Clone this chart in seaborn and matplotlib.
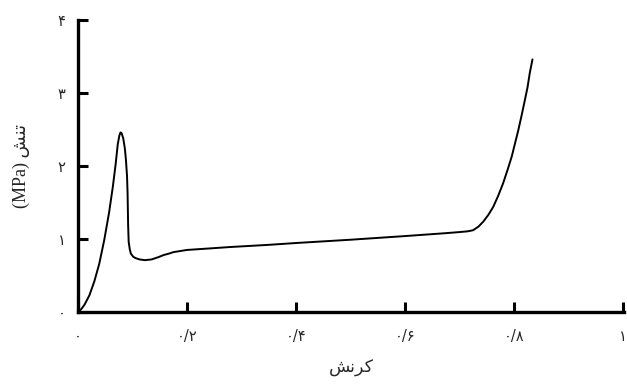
import numpy as np
import pandas as pd
import seaborn as sns
import matplotlib.pyplot as plt

# values
strain = [0.000, 0.006, 0.012, 0.021, 0.030, 0.039, 0.048, 0.057, 0.064, 0.069,
          0.073, 0.076, 0.078, 0.080, 0.083, 0.086, 0.088, 0.090, 0.091, 0.092,
          0.093, 0.095, 0.097, 0.101, 0.105, 0.113, 0.123, 0.135, 0.147, 0.157,
          0.167, 0.175, 0.200, 0.240, 0.279, 0.350, 0.400, 0.500, 0.600, 0.675,
          0.700, 0.715, 0.725, 0.735, 0.744, 0.753, 0.762, 0.771, 0.780, 0.788,
          0.796, 0.802, 0.808, 0.814, 0.820, 0.825, 0.829, 0.834]
stress = [0.00, 0.04, 0.10, 0.23, 0.42, 0.66, 0.98, 1.36, 1.72, 2.02,
          2.30, 2.42, 2.46, 2.45, 2.38, 2.24, 2.08, 1.86, 1.62, 1.19,
          0.96, 0.86, 0.80, 0.76, 0.74, 0.72, 0.71, 0.72, 0.75, 0.78,
          0.80, 0.82, 0.85, 0.87, 0.89, 0.92, 0.945, 0.99, 1.04, 1.08,
          1.095, 1.105, 1.12, 1.17, 1.24, 1.33, 1.44, 1.59, 1.76, 1.94,
          2.13, 2.31, 2.49, 2.69, 2.90, 3.08, 3.27, 3.46]

x_ticks = [0, 0.2, 0.4, 0.6, 0.8, 1.0]
x_tick_labels = ['۰', '۰/۲', '۰/۴', '۰/۶', '۰/۸', '۱']
y_ticks = [0, 1, 2, 3, 4]
y_tick_labels = ['۰', '۱', '۲', '۳', '۴']
x_label = 'کرنش'
y_label_word = 'تنش'
y_label_unit = '(MPa)'

# matplotlib has no arabic shaping, so pick presentation forms by hand
forms = {
    'ک': ('\uFB8E', '\uFB8F', '\uFB90', '\uFB91'),
    'ر': ('\uFEAD', '\uFEAE', None, None),
    'ن': ('\uFEE5', '\uFEE6', '\uFEE7', '\uFEE8'),
    'ش': ('\uFEB5', '\uFEB6', '\uFEB7', '\uFEB8'),
    'ت': ('\uFE95', '\uFE96', '\uFE97', '\uFE98'),
}

def shape(word):
    out = []
    for i, ch in enumerate(word):
        prev_joins = i > 0 and forms[word[i-1]][2] is not None
        next_exists = i < len(word) - 1
        can_join_next = forms[ch][2] is not None and next_exists
        if prev_joins and can_join_next:
            out.append(forms[ch][3])
        elif prev_joins:
            out.append(forms[ch][1])
        elif can_join_next:
            out.append(forms[ch][2])
        else:
            out.append(forms[ch][0])
    return ''.join(reversed(out))

df = pd.DataFrame({'strain': strain, 'stress': stress})

sns.set_style('ticks')
plt.rcParams['font.family'] = ['Liberation Serif', 'DejaVu Sans']

fig = plt.figure(figsize=(6.27, 3.87), dpi=100)
ax = fig.add_axes([78/627, 1-312/387, 546/627, 292/387])

sns.lineplot(data=df, x='strain', y='stress', sort=False, color='black',
             linewidth=1.4, ax=ax, solid_joinstyle='round')

ax.set_xlim(0, 1.002)
ax.set_ylim(0, 4)
ax.set_xticks(x_ticks)
ax.set_xticklabels(x_tick_labels, family=['DejaVu Sans'], fontsize=10.5)
ax.set_yticks(y_ticks)
ax.set_yticklabels(y_tick_labels, family=['DejaVu Sans'], fontsize=10.5)
ax.tick_params(direction='in', length=7, width=2.2, color='black')
ax.tick_params(axis='x', pad=12)
ax.tick_params(axis='y', pad=9)

for s in ['top', 'right']:
    ax.spines[s].set_visible(False)
for s in ['left', 'bottom']:
    ax.spines[s].set_linewidth(2.4)
    ax.spines[s].set_color('black')

ax.set_xlabel(shape(x_label), family=['DejaVu Sans'], fontsize=12.5, labelpad=11)
ax.set_ylabel(y_label_unit + ' ' + shape(y_label_word),
              family=['Liberation Serif', 'DejaVu Sans'], fontsize=13, labelpad=20)

fig.savefig('out.png', dpi=100)
